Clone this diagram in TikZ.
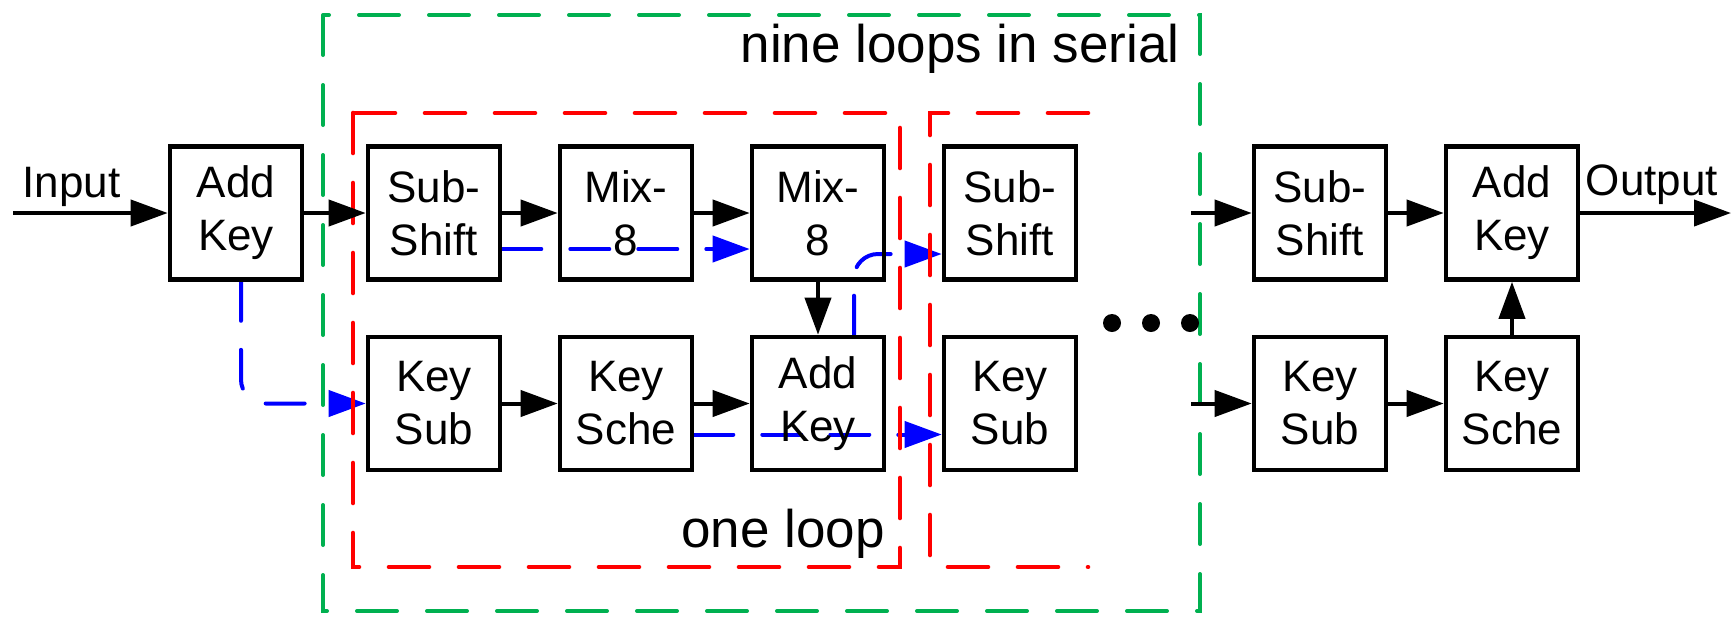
\documentclass[tikz,border=0pt]{standalone}
\usepackage{fontspec}
\setmainfont{Liberation Sans}
\usepackage{xcolor}
\usepackage{tikz}
\usetikzlibrary{positioning,arrows.meta,backgrounds}

\definecolor{serialgreen}{RGB}{0,176,80}

\begin{document}
\begin{tikzpicture}[
  x=1pt, y=1pt,
  font=\fontsize{22}{26.5}\selectfont,
  block/.style   = {rectangle, draw=black, line width=2.3pt,
    minimum width=66pt, minimum height=66.5pt, inner sep=0pt, align=center},
  arrow/.style   = {-{Triangle[length=18.5pt,width=13pt]}, line width=2pt},
  keyflow/.style = {-{Triangle[length=18.5pt,width=13pt]}, draw=blue, line width=2pt,
    line cap=round, dash pattern=on 19.5pt off 14.5pt},
  loopframe/.style = {line width=2.3pt, line cap=round, dash pattern=on 20pt off 15pt},
  looptext/.style  = {font=\fontsize{26.5}{32}\selectfont, inner sep=0pt},
  node distance=26.45pt and 27.7pt,
]
  \useasboundingbox (0,0) rectangle (865.5,-308.5);

  \node[block] (ss1) at (217,-106.5) {Sub-\\Shift};
  \node[block, left=30.7pt of ss1] (ak1) {Add\\Key};
  \node[block, right=of ss1] (mx1) {Mix-\\8};
  \node[block, right=of mx1] (mx2) {Mix-\\8};
  \node[block, right=of mx2] (ss2) {Sub-\\Shift};
  \node[block, below=of ss1] (ks1) {Key\\Sub};
  \node[block, below=of mx1] (kc1) {Key\\Sche};
  \node[block, below=of mx2] (ak2) {Add\\Key};
  \node[block, below=of ss2] (ks2) {Key\\Sub};
  \node[block, right=86.7pt of ss2] (ss3) {Sub-\\Shift};
  \node[block, right=of ss3] (ak3) {Add\\Key};
  \node[block, below=of ss3] (ks3) {Key\\Sub};
  \node[block, below=of ak3] (kc3) {Key\\Sche};

  \coordinate (in)  at (6.5,-106.5);
  \coordinate (out) at (865.5,-106.5);
  \coordinate (st1) at (595.5,-106.5);
  \coordinate (st2) at (st1 |- ks3);

  \node[anchor=base] (input)  at (35.75,-98.5) {Input};
  \node[anchor=base] (output) at (826,-97.5) {Output};
  \node[looptext, anchor=base east] (serial)  at (590,-31) {nine loops in serial};
  \node[looptext, anchor=base east] (oneloop) at (442.5,-273.5) {one loop};

  % loop frames
  \draw[loopframe, draw=serialgreen, line width=2pt] (161.5,-7.5) rectangle (600,-305.5);
  \draw[loopframe, draw=red] (176.5,-56.5) rectangle (450,-283.5);
  \draw[loopframe, draw=red] (544,-56.5) -- (465,-56.5) -- (465,-283.5) -- (544,-283.5);

  \draw[arrow] (in) -- (ak1);
  \draw[arrow] (ak1) -- (ss1);
  \draw[arrow] (ss1) -- (mx1);
  \draw[arrow] (mx1) -- (mx2);
  \draw[arrow] (mx2) -- (ak2);
  \draw[arrow] (ks1) -- (kc1);
  \draw[arrow] (kc1) -- (ak2);
  \draw[arrow] (st1) -- (ss3);
  \draw[arrow] (st2) -- (ks3);
  \draw[arrow] (ss3) -- (ak3);
  \draw[arrow] (ks3) -- (kc3);
  \draw[arrow] (kc3) -- (ak3);
  \draw[arrow] (ak3) -- (out);

  \foreach \dx in {556,575.5,595}
    \fill (\dx,-161.5) circle (4.5pt);

  % key paths under the text
  \begin{scope}[on background layer]
    \draw[keyflow, rounded corners=12pt] ([xshift=2.5pt]ak1.south) |- (ks1.west);
    \draw[keyflow] ([yshift=-18pt]ss1.east) -- ([yshift=-18pt]mx2.west);
    \draw[keyflow, rounded corners=12pt] ([xshift=18pt]ak2.north) |- ([yshift=-20.5pt]ss2.west);
    \draw[keyflow] ([yshift=-15.5pt]kc1.east) -- ([yshift=-15.5pt]ks2.west);
  \end{scope}
\end{tikzpicture}
\end{document}
